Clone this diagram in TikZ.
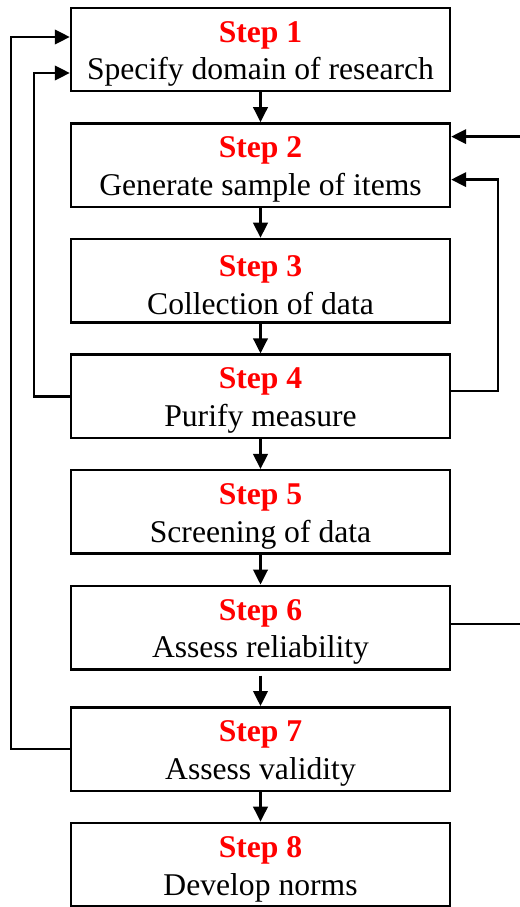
\documentclass[tikz,border=0pt]{standalone}
\usepackage{fontspec}
\setmainfont{Liberation Serif}
\usetikzlibrary{arrows.meta, positioning}
\newcommand{\steptitle}[1]{\rule{0pt}{17pt}\textcolor{red}{\textbf{Step #1}}}

\begin{document}
\begin{tikzpicture}[node distance=0.593cm, line width=1.4pt,
  >={Triangle[length=0.3cm, width=0.29cm]},
  box/.style={rectangle, draw, fill=white, minimum height=1.67cm, minimum width=7.58cm, align=center, inner xsep=2pt, inner ysep=0pt, font=\fontsize{18}{21.5}\selectfont}]
  \useasboundingbox (0,0) rectangle (10.38,-18.14);
  \node[box] (domain) at (5.21,-0.99) {\steptitle{1}\\Specify domain of research};
  \node[box, below=of domain] (sample) {\steptitle{2}\\Generate sample of items};
  \node[box, below=of sample] (collect) {\steptitle{3}\\Collection of data};
  \node[box, below=of collect] (purify) {\steptitle{4}\\Purify measure};
  \node[box, below=of purify] (screen) {\steptitle{5}\\Screening of data};
  \node[box, below=of screen] (reliab) {\steptitle{6}\\Assess reliability};
  \node[box, below=0.71cm of reliab] (valid) {\steptitle{7}\\Assess validity};
  \node[box, below=of valid] (norms) {\steptitle{8}\\Develop norms};
  \draw[->] (domain) -- (sample);
  \draw[->] (sample) -- (collect);
  \draw[->] (collect) -- (purify);
  \draw[->] (purify) -- (screen);
  \draw[->] (screen) -- (reliab);
  \draw[->, shorten <=0.1cm] (reliab) -- (valid);
  \draw[->] (valid) -- (norms);
  % loops back on the left
  \draw[->] (valid.west) -- ++(-1.18,0) |- ([yshift=0.25cm]domain.west);
  \draw[->] (purify.west) -- ++(-0.72,0) |- ([yshift=-0.47cm]domain.west);
  % loops back on the right
  \draw[->] ([yshift=0.11cm]purify.east) -- ++(0.94,0) |- ([yshift=-0.29cm]sample.east);
  \draw[->] ([yshift=0.07cm]reliab.east) -- ++(1.44,0) |- ([yshift=0.57cm]sample.east);
\end{tikzpicture}
\end{document}
